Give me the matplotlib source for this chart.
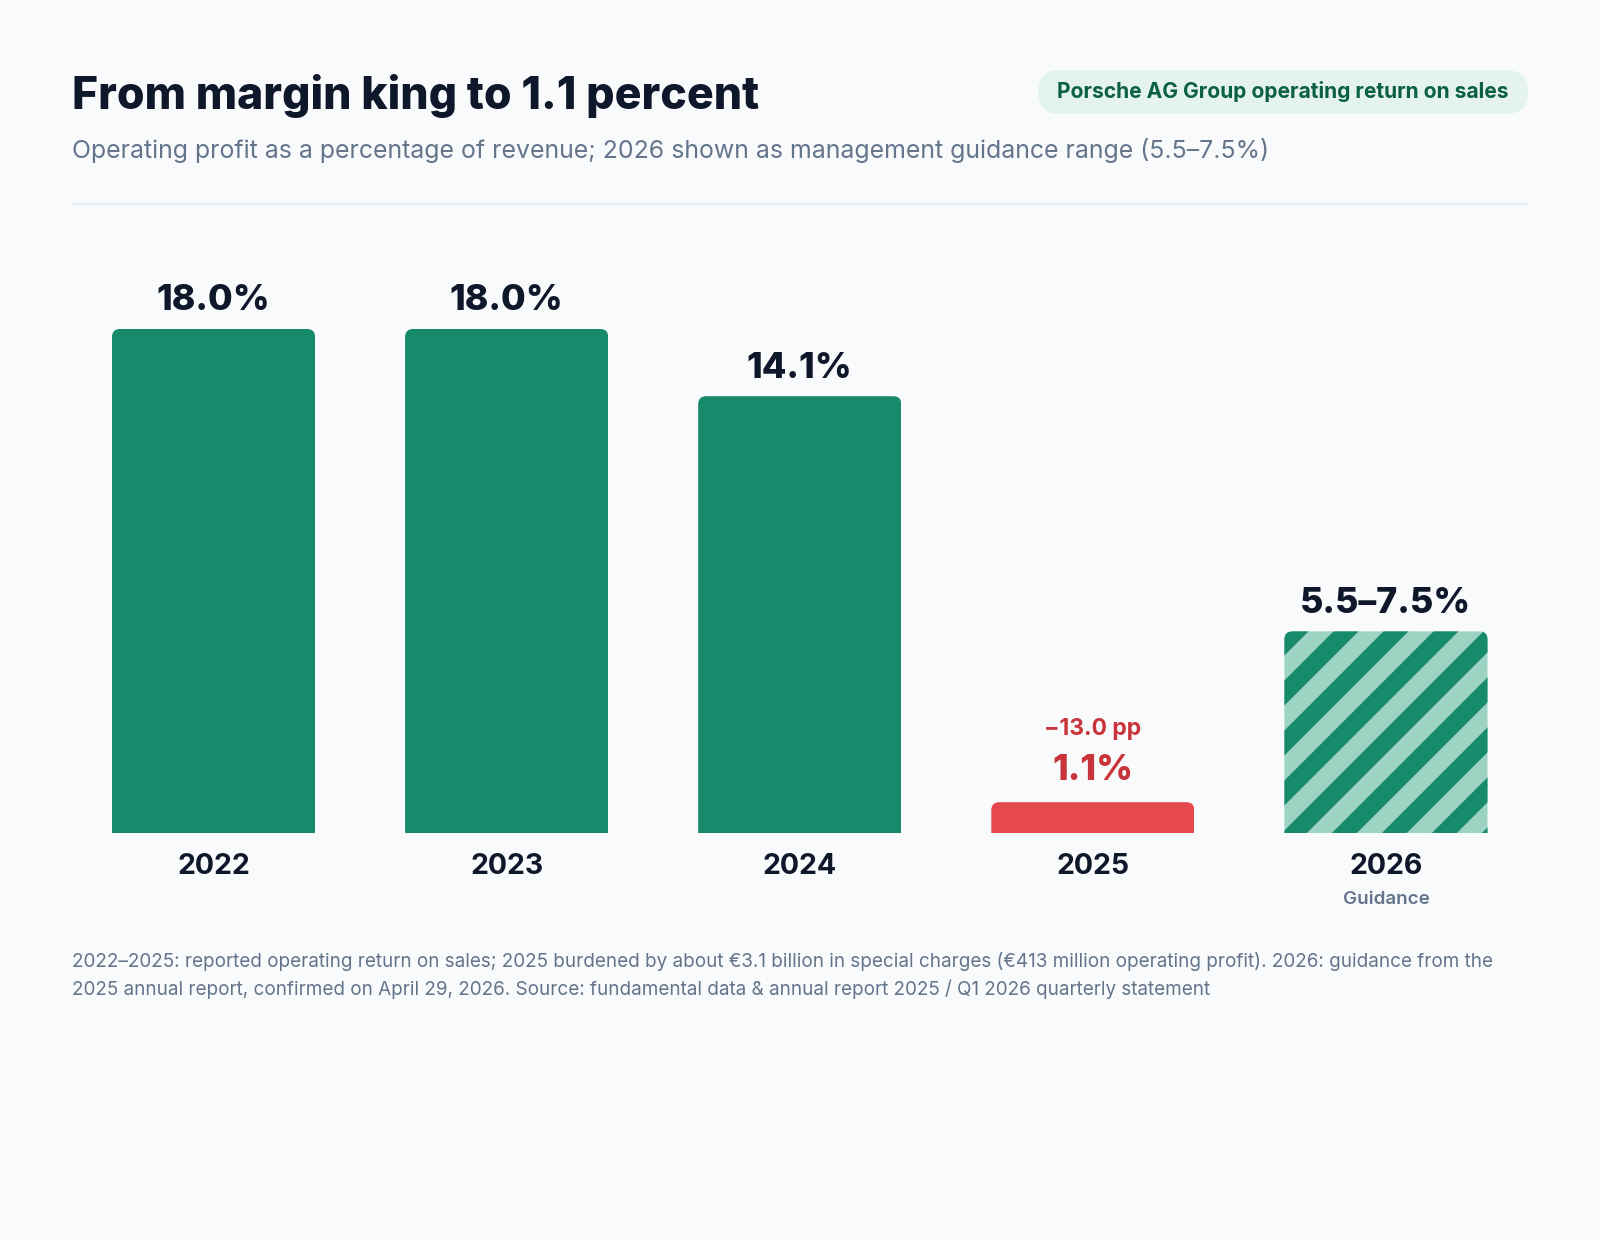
import matplotlib.pyplot as plt
from matplotlib.patches import FancyBboxPatch
from matplotlib.lines import Line2D

plt.rcParams['font.family'] = ['Inter', 'DejaVu Sans']

# Data
years = ["2022", "2023", "2024", "2025", "2026"]
value_labels = ["18.0%", "18.0%", "14.1%", "1.1%", "5.5–7.5%"]
# bar heights as drawn in the picture (percent of revenue)
bar_height = [18.0, 18.0, 15.6, 1.1, 7.2]
change_2025 = "−13.0 pp"
guidance_low, guidance_high = 5.5, 7.5

title = "From margin king to 1.1 percent"
subtitle = ("Operating profit as a percentage of revenue; 2026 shown as "
            "management guidance range (5.5–7.5%)")
badge = "Porsche AG Group operating return on sales"
note_lines = [
    "2022–2025: reported operating return on sales; 2025 burdened by about €3.1 billion "
    "in special charges (€413 million operating profit). 2026: guidance from the",
    "2025 annual report, confirmed on April 29, 2026. Source: fundamental data & annual "
    "report 2025 / Q1 2026 quarterly statement",
]

# Colours
BG = "#f8fafc"
GREEN = "#188a6c"
GREEN_LIGHT = "#9dd3c3"
RED = "#e5484d"
RED_TEXT = "#c8343a"
DARK = "#0f172a"
GREY = "#64748b"

W, H = 1600, 1239
fig = plt.figure(figsize=(W / 100, H / 100), dpi=100, facecolor=BG)

# overlay axes in pixel units for header and footer
ov = fig.add_axes([0, 0, 1, 1], zorder=0)
ov.set_xlim(0, W)
ov.set_ylim(H, 0)
ov.axis("off")
ov.patch.set_alpha(0)

ov.text(72, 109, title, fontsize=32.1, fontweight="heavy", color=DARK, va="baseline")
ov.text(72, 158, subtitle, fontsize=17.9, color=GREY, va="baseline")

pill = FancyBboxPatch((1038, 70), 490, 44, boxstyle="round,pad=0,rounding_size=22",
                      facecolor="#e4f3ed", edgecolor="none")
ov.add_patch(pill)
ov.text(1283, 92, badge, fontsize=15.1, fontweight="bold", color="#0a5f45",
        ha="center", va="center")

ov.plot([72, 1528], [204, 204], color="#e2e8f0", lw=1.2)

for i, line in enumerate(note_lines):
    ov.text(72, 967 + 28 * i, line, fontsize=13.6, color=GREY, va="baseline")

# chart axes
left_px, base_px, step_px, unit_px = 67, 833, 293.1, 28.0
ax = fig.add_axes([left_px / W, (H - base_px) / H, 5 * step_px / W, 20 * unit_px / H], zorder=1)
ax.set_xlim(-0.5, 4.5)
ax.set_ylim(0, 20)
ax.axis("off")
ax.patch.set_alpha(0)

width = 0.693
colors = [GREEN, GREEN, GREEN, RED, GREEN_LIGHT]
bars = ax.bar(range(len(years)), bar_height, width=width, color=colors, edgecolor="none")

radius_px = 8
aspect = step_px / unit_px
pt = 0.72  # points per pixel at 100 dpi
for i, b in enumerate(bars):
    clip = FancyBboxPatch((b.get_x(), -2), width, bar_height[i] + 2,
                          boxstyle=f"round,pad=0,rounding_size={radius_px / step_px}",
                          mutation_aspect=aspect, transform=ax.transData)
    b.set_clip_path(clip)
    if i == 4:
        # diagonal guidance stripes
        x0 = b.get_x()
        for k in range(-10, 10):
            a = k * 50 + 10
            s0, s1 = -60, 300
            xs = [x0 + (a + s0) / step_px, x0 + (a + s1) / step_px]
            ys = [s0 / unit_px, s1 / unit_px]
            ln = Line2D(xs, ys, color=GREEN, lw=12.7, solid_capstyle="butt")
            ax.add_line(ln)
            ln.set_clip_path(clip)

    # value labels
    if i == 3:
        ax.annotate(value_labels[i], (i, bar_height[i]), xytext=(0, 32 * pt),
                    textcoords="offset points", ha="center", va="center",
                    fontsize=25.8, fontweight="heavy", color=RED_TEXT)
        ax.annotate(change_2025, (i, bar_height[i]), xytext=(0, 73 * pt),
                    textcoords="offset points", ha="center", va="center",
                    fontsize=16.5, fontweight="bold", color=RED_TEXT)
    else:
        ax.annotate(value_labels[i], (i, bar_height[i]), xytext=(0, 28 * pt),
                    textcoords="offset points", ha="center", va="center",
                    fontsize=25.8, fontweight="heavy", color=DARK)

    ax.annotate(years[i], (i, 0), xytext=(0, -34 * pt), textcoords="offset points",
                ha="center", va="center", fontsize=20.5, fontweight="bold", color=DARK)

ax.annotate("Guidance", (4, 0), xytext=(0, -66 * pt), textcoords="offset points",
            ha="center", va="center", fontsize=13.5, fontweight="semibold", color=GREY)

fig.savefig("out.png", dpi=100, facecolor=BG)
